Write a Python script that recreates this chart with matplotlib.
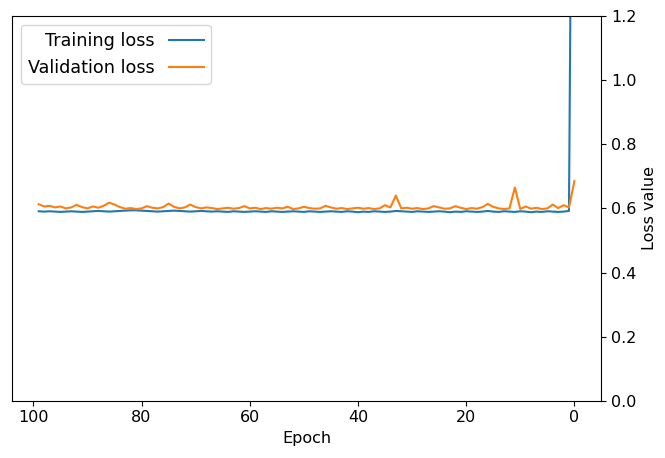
import matplotlib
matplotlib.use("Agg")
import matplotlib.pyplot as plt
import numpy as np

epochs = list(range(100))

training_loss = [
    3.000, 0.592, 0.590, 0.589, 0.590, 0.591, 0.589, 0.590, 0.588, 0.590,
    0.591, 0.589, 0.590, 0.591, 0.589, 0.590, 0.592, 0.590, 0.589, 0.590,
    0.591, 0.589, 0.590, 0.588, 0.590, 0.591, 0.590, 0.589, 0.590, 0.591,
    0.589, 0.590, 0.591, 0.592, 0.590, 0.589, 0.590, 0.591, 0.589, 0.590,
    0.588, 0.590, 0.591, 0.589, 0.590, 0.591, 0.590, 0.589, 0.590, 0.591,
    0.589, 0.590, 0.591, 0.590, 0.589, 0.590, 0.591, 0.589, 0.590, 0.591,
    0.590, 0.589, 0.590, 0.591, 0.589, 0.590, 0.591, 0.590, 0.591, 0.592,
    0.591, 0.590, 0.591, 0.592, 0.593, 0.592, 0.591, 0.590, 0.591, 0.592,
    0.593, 0.594, 0.594, 0.593, 0.592, 0.591, 0.590, 0.591, 0.592, 0.591,
    0.590, 0.589, 0.590, 0.591, 0.590, 0.589, 0.590, 0.591, 0.590, 0.591,
]

validation_loss = [
    0.685, 0.603, 0.610, 0.601, 0.612, 0.600, 0.598, 0.602, 0.599, 0.606,
    0.598, 0.665, 0.600, 0.598, 0.600, 0.605, 0.614, 0.604, 0.599, 0.601,
    0.598, 0.602, 0.607, 0.600, 0.599, 0.603, 0.607, 0.600, 0.598, 0.601,
    0.599, 0.602, 0.600, 0.640, 0.603, 0.610, 0.600, 0.598, 0.601, 0.599,
    0.602, 0.600, 0.598, 0.601, 0.599, 0.603, 0.608, 0.600, 0.599, 0.601,
    0.605, 0.600, 0.598, 0.605, 0.600, 0.602, 0.599, 0.601, 0.598, 0.602,
    0.600, 0.607, 0.601, 0.599, 0.602, 0.600, 0.598, 0.601, 0.603, 0.600,
    0.604, 0.612, 0.603, 0.600, 0.605, 0.615, 0.604, 0.600, 0.602, 0.607,
    0.600, 0.598, 0.601, 0.599, 0.604, 0.612, 0.618, 0.608, 0.602, 0.606,
    0.600, 0.604, 0.611, 0.603, 0.600, 0.606, 0.603, 0.608, 0.606, 0.613,
]

fig = plt.figure(figsize=(6.65, 4.58), dpi=100)
ax = fig.add_axes([0.018, 0.125, 0.886, 0.840])

ax.plot(epochs, training_loss, color="#1f77b4", lw=1.5, label="Training loss")
ax.plot(epochs, validation_loss, color="#ff7f0e", lw=1.5, label="Validation loss")

ax.set_ylim(0, 1.2)
ax.set_xlim(-4.95, 103.95)
ax.invert_xaxis()
ax.set_xticks([0, 20, 40, 60, 80, 100])
ax.set_yticks([0.0, 0.2, 0.4, 0.6, 0.8, 1.0, 1.2])
ax.yaxis.tick_right()
ax.yaxis.set_label_position("right")
ax.tick_params(labelsize=11.5)
ax.set_xlabel("Epoch", fontsize=11.5)
ax.set_ylabel("Loss value", fontsize=11.5)

ax.legend(loc="upper left", markerfirst=False, fontsize=12.7)

fig.savefig("out.png", dpi=100)
